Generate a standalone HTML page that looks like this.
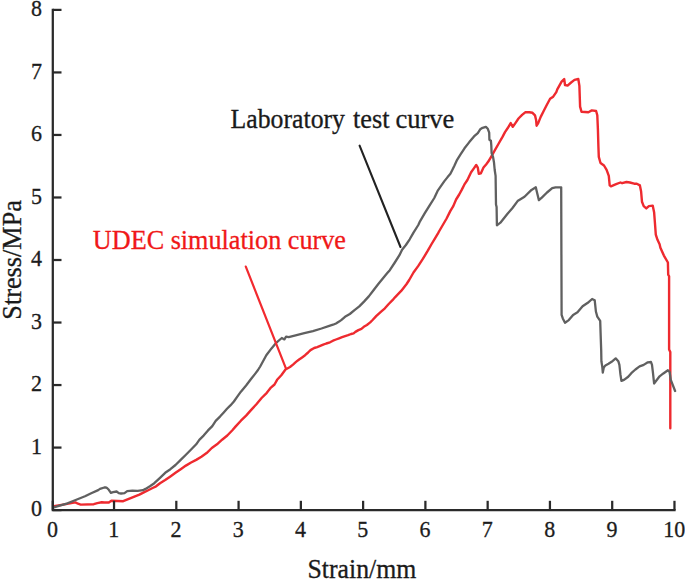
<!DOCTYPE html>
<html><head><meta charset="utf-8"><style>
html,body{margin:0;padding:0;background:#fff;}
body{width:685px;height:579px;overflow:hidden;}
svg{display:block;}
text{font-family:"Liberation Serif",serif;stroke-width:0.3px;}
</style></head><body>
<svg width="685" height="579" viewBox="0 0 685 579">
<rect width="685" height="579" fill="#fff"/>
<g>
<polyline points="53.9,506.3 63.1,504.6 75.4,502.4 78.0,503.7 80.7,504.6 93.8,504.2 97.3,503.1 101.7,502.2 104.4,502.5 108.8,502.5 111.4,500.7 117.5,501.0 123.2,501.2 126.3,499.9 130.7,498.1 135.0,496.3 139.4,494.6 143.8,492.4 148.2,490.2 152.6,488.0 156.1,486.3 160.0,483.2 165.2,480.0 170.4,476.4 175.5,472.8 180.7,469.2 185.9,465.6 191.1,462.5 196.2,459.9 201.4,456.8 206.6,453.1 211.8,448.0 217.0,444.3 222.1,439.7 227.3,435.5 232.6,430.0 235.7,426.4 240.9,420.7 246.1,415.6 251.2,409.9 256.4,404.2 261.6,398.0 266.8,392.8 270.9,387.6 274.5,384.5 277.1,379.8 281.3,375.2 285.5,369.5 290.0,367.0 293.0,364.6 296.0,361.9 299.1,359.5 302.1,357.4 305.1,355.2 308.1,352.5 310.5,350.1 314.2,348.0 317.2,347.1 320.2,345.9 323.2,344.7 326.3,343.5 330.0,342.3 333.0,340.7 336.0,339.5 339.1,338.3 342.1,337.1 345.1,336.1 348.1,335.2 351.1,334.0 353.6,333.4 355.4,331.9 358.4,330.1 361.4,328.9 363.8,326.8 366.9,325.0 370.2,322.4 372.6,320.0 376.4,315.9 381.1,311.6 384.9,308.3 388.7,304.0 392.5,300.2 395.0,297.3 401.4,290.7 406.6,284.0 409.2,280.0 413.5,272.5 418.3,265.9 423.0,258.7 427.8,250.7 431.6,244.0 435.0,238.3 438.0,233.3 439.0,231.5 442.8,225.0 446.6,218.5 450.4,210.9 453.3,206.1 456.1,199.5 459.2,194.5 461.7,189.9 464.3,184.7 467.4,180.0 471.1,172.3 473.7,168.6 476.2,165.0 477.8,167.6 478.8,173.8 480.9,173.3 483.5,167.6 486.1,164.5 488.3,161.6 491.1,156.8 494.9,150.2 498.7,143.5 502.5,136.9 505.0,132.1 507.6,128.3 510.7,123.1 512.8,126.8 515.4,123.1 518.5,118.5 522.1,114.9 525.2,112.3 529.3,112.3 532.5,112.8 535.0,115.4 536.1,120.0 536.6,125.7 538.2,123.1 540.7,116.9 543.8,110.7 547.0,104.5 550.1,98.8 553.2,96.7 556.3,92.1 557.3,89.4 561.6,81.6 564.2,79.0 565.0,85.0 567.6,85.6 571.1,82.5 574.5,79.9 578.3,79.0 579.4,85.9 580.1,106.6 581.5,111.8 588.4,112.2 591.8,110.4 596.1,111.0 597.3,115.3 597.9,129.1 598.4,146.4 598.8,156.9 600.5,163.0 604.0,165.5 606.6,169.9 608.8,175.9 609.7,185.4 610.9,186.3 616.1,184.2 620.4,182.5 622.1,183.2 626.5,182.0 629.9,182.5 634.2,183.7 636.8,183.7 639.9,185.4 641.1,191.5 642.0,201.8 643.7,206.1 646.3,208.4 648.9,206.1 652.7,205.6 654.1,212.2 654.9,222.5 655.8,234.6 657.5,239.8 659.6,244.3 660.4,247.8 663.9,255.6 667.9,262.5 668.2,274.6 669.1,276.3 669.1,349.5 670.3,352.1 670.3,428.2" fill="none" stroke="#ee2a2f" stroke-width="2.4" stroke-linejoin="round" stroke-linecap="round"/>
<polyline points="53.2,507.7 58.8,505.9 67.5,503.3 76.3,499.8 85.0,496.3 91.2,493.2 98.2,490.1 100.0,488.9 104.3,487.5 106.0,487.4 107.0,488.0 108.8,489.8 110.9,492.8 113.1,492.2 116.6,491.5 118.8,493.1 121.0,493.5 124.5,493.1 127.2,491.1 132.4,490.7 137.7,490.8 142.9,490.2 145.5,488.9 149.9,486.3 154.3,483.2 160.0,477.8 165.2,472.8 170.4,469.2 175.5,465.0 180.7,459.9 185.9,454.7 191.1,449.5 196.2,444.3 199.3,439.9 203.6,435.6 208.0,430.4 212.3,426.1 215.7,420.9 220.0,416.6 223.5,412.7 227.0,408.8 230.4,405.4 233.9,401.5 237.3,396.7 240.9,391.7 246.1,385.5 251.2,378.8 254.9,374.1 258.0,370.0 260.2,366.5 266.3,355.3 271.5,348.4 275.8,343.2 281.8,338.0 284.4,339.4 286.1,336.6 288.7,337.1 295.6,335.4 304.3,333.2 312.9,331.1 321.5,328.5 330.0,325.6 333.0,324.7 336.0,323.5 339.1,321.6 341.5,319.8 345.0,316.8 349.8,314.0 354.5,310.2 359.3,306.4 364.0,301.6 368.8,296.4 373.5,290.2 378.3,284.0 383.0,278.3 387.3,273.1 389.8,270.2 394.5,263.0 399.3,255.4 402.1,249.7 405.9,245.0 409.7,239.3 413.5,232.6 418.3,225.0 420.0,221.3 424.8,213.2 429.5,205.6 434.3,198.0 437.6,190.9 440.9,186.2 444.2,181.4 447.6,177.1 450.4,173.8 452.3,170.0 454.5,165.5 457.1,159.8 460.7,154.1 464.5,148.3 469.3,142.1 474.0,136.4 477.8,133.1 480.2,129.3 482.6,127.8 485.9,126.9 487.8,128.8 489.2,132.6 489.4,139.7 490.9,140.7 491.3,145.4 491.6,153.0 493.0,156.8 494.0,162.5 494.7,170.0 495.6,175.9 496.0,204.5 496.6,207.1 496.9,225.3 500.4,222.7 507.3,214.0 512.5,208.0 517.6,201.1 524.5,196.8 531.5,189.9 535.8,187.3 536.6,190.7 538.9,200.2 541.8,197.6 547.0,192.5 552.2,188.1 555.6,187.3 561.2,187.3 561.6,314.9 562.8,318.4 565.0,322.7 568.8,320.1 573.1,314.9 577.5,312.3 582.6,306.3 587.8,302.8 592.1,299.0 594.7,300.2 595.9,311.5 597.3,316.6 600.2,320.9 600.8,339.1 601.2,350.4 601.4,361.2 602.3,366.9 602.8,372.6 603.8,367.5 605.4,365.4 608.5,363.8 611.6,361.8 615.7,358.4 618.3,361.2 619.4,364.9 620.4,374.2 621.4,380.9 624.0,379.9 628.2,376.8 631.3,373.2 635.4,369.5 639.6,366.4 643.7,364.9 647.8,362.3 651.0,362.0 652.0,364.9 653.0,373.2 654.1,383.5 659.6,376.3 663.0,373.7 667.9,370.3 669.6,372.0 670.8,379.8 675.1,391.0" fill="none" stroke="#606060" stroke-width="2.3" stroke-linejoin="round" stroke-linecap="round"/>
<line x1="359.6" y1="145.6" x2="400.5" y2="247" stroke="#222" stroke-width="2.1" stroke-linecap="round"/>
<line x1="245.8" y1="266.6" x2="286" y2="368.7" stroke="#f22a2f" stroke-width="2.2" stroke-linecap="round"/>
<g stroke="#2a2a2a" stroke-width="2.25">
<polyline points="52.8,9.9 52.8,510.1 674.5,510.1" fill="none" stroke-linecap="square"/>
<line x1="52.80" y1="510.1" x2="52.80" y2="500.8"/><line x1="114.04" y1="510.1" x2="114.04" y2="500.8"/><line x1="176.31" y1="510.1" x2="176.31" y2="500.8"/><line x1="238.58" y1="510.1" x2="238.58" y2="500.8"/><line x1="300.85" y1="510.1" x2="300.85" y2="500.8"/><line x1="363.12" y1="510.1" x2="363.12" y2="500.8"/><line x1="425.39" y1="510.1" x2="425.39" y2="500.8"/><line x1="487.66" y1="510.1" x2="487.66" y2="500.8"/><line x1="549.93" y1="510.1" x2="549.93" y2="500.8"/><line x1="612.20" y1="510.1" x2="612.20" y2="500.8"/><line x1="674.47" y1="510.1" x2="674.47" y2="500.8"/><line x1="52.8" y1="510.10" x2="61.5" y2="510.10"/><line x1="52.8" y1="447.58" x2="61.5" y2="447.58"/><line x1="52.8" y1="385.05" x2="61.5" y2="385.05"/><line x1="52.8" y1="322.53" x2="61.5" y2="322.53"/><line x1="52.8" y1="260.00" x2="61.5" y2="260.00"/><line x1="52.8" y1="197.48" x2="61.5" y2="197.48"/><line x1="52.8" y1="134.95" x2="61.5" y2="134.95"/><line x1="52.8" y1="72.43" x2="61.5" y2="72.43"/><line x1="52.8" y1="9.90" x2="61.5" y2="9.90"/>
</g>
</g>
<g font-size="22" fill="#1c1c1c" stroke="#1c1c1c">
<text transform="translate(52.50,537) scale(1,1.055)" text-anchor="middle">0</text><text transform="translate(113.74,537) scale(1,1.055)" text-anchor="middle">1</text><text transform="translate(176.01,537) scale(1,1.055)" text-anchor="middle">2</text><text transform="translate(238.28,537) scale(1,1.055)" text-anchor="middle">3</text><text transform="translate(300.55,537) scale(1,1.055)" text-anchor="middle">4</text><text transform="translate(362.82,537) scale(1,1.055)" text-anchor="middle">5</text><text transform="translate(425.09,537) scale(1,1.055)" text-anchor="middle">6</text><text transform="translate(487.36,537) scale(1,1.055)" text-anchor="middle">7</text><text transform="translate(549.63,537) scale(1,1.055)" text-anchor="middle">8</text><text transform="translate(611.90,537) scale(1,1.055)" text-anchor="middle">9</text><text transform="translate(674.17,537) scale(1,1.055)" text-anchor="middle">10</text><text transform="translate(41.9,516.20) scale(1,1.055)" text-anchor="end">0</text><text transform="translate(41.9,453.68) scale(1,1.055)" text-anchor="end">1</text><text transform="translate(41.9,391.15) scale(1,1.055)" text-anchor="end">2</text><text transform="translate(41.9,328.63) scale(1,1.055)" text-anchor="end">3</text><text transform="translate(41.9,266.10) scale(1,1.055)" text-anchor="end">4</text><text transform="translate(41.9,203.58) scale(1,1.055)" text-anchor="end">5</text><text transform="translate(41.9,141.05) scale(1,1.055)" text-anchor="end">6</text><text transform="translate(41.9,78.53) scale(1,1.055)" text-anchor="end">7</text><text transform="translate(41.9,16.00) scale(1,1.055)" text-anchor="end">8</text>
</g>
<text transform="translate(361.9,578) scale(1,1.055)" font-size="25.8" text-anchor="middle" fill="#1a1a1a" stroke="#1a1a1a">Strain/mm</text>
<text transform="translate(20.5,259.9) rotate(-90) scale(1,1.055)" font-size="26.25" text-anchor="middle" fill="#1a1a1a" stroke="#1a1a1a">Stress/MPa</text>
<text transform="translate(0,128.0) scale(1,1.055)" font-size="26.35" fill="#1a1a1a" stroke="#1a1a1a"><tspan x="230.6" textLength="114.4" lengthAdjust="spacingAndGlyphs">Laboratory</tspan><tspan x="352.9">test</tspan><tspan x="395.4" textLength="59" lengthAdjust="spacingAndGlyphs">curve</tspan></text>
<text transform="translate(92.8,248.5) scale(1,1.055)" font-size="26.2" fill="#f01818" stroke="#f01818">UDEC simulation curve</text>
</svg>
</body></html>
